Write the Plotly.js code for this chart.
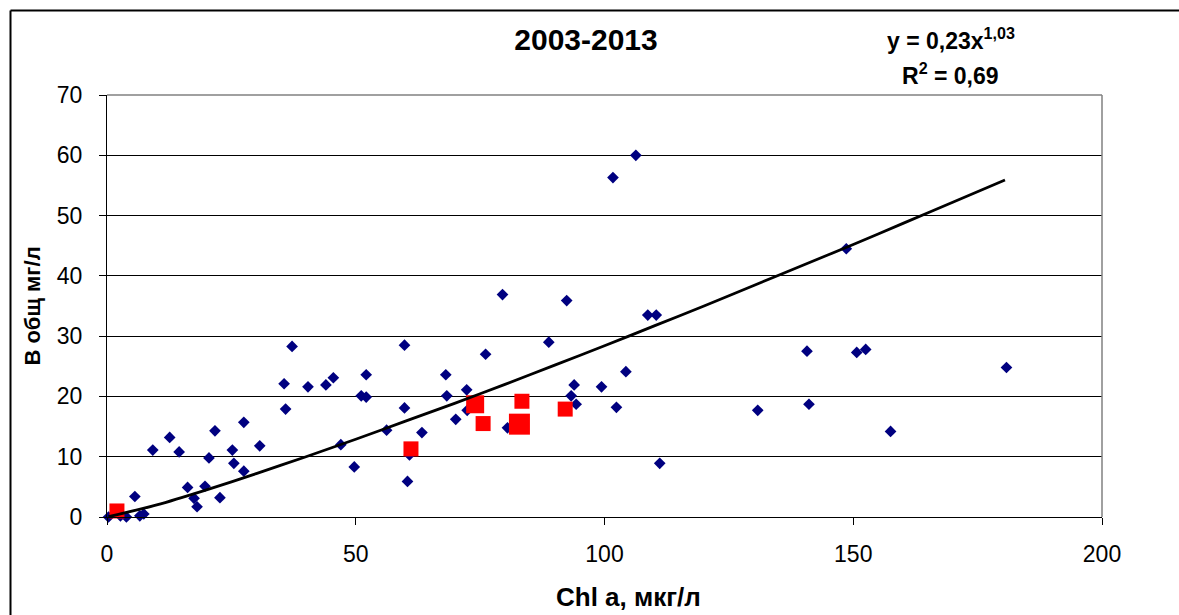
<!DOCTYPE html>
<html>
<head>
<meta charset="utf-8">
<script src="https://cdn.plot.ly/plotly-3.0.1.min.js"></script>
<style>
  html, body { margin: 0; padding: 0; background: #ffffff; }
  #chart { width: 1179px; height: 615px; }
</style>
</head>
<body>
<div id="chart"></div>
<script>
// Chlorophyll a (мкг/л) vs total biomass (мг/л), 2003-2013
const chlAll = [0.3, 2.7, 3.9, 5.6, 6.6, 7.4, 9.2, 12.6, 14.5, 16.2, 17.5, 18.1, 19.7, 20.5,
  21.7, 22.7, 25.2, 25.5, 27.5, 27.5, 30.7, 35.6, 35.9, 37.2, 40.4, 44.0, 45.5, 47.0, 49.7,
  51.1, 52.1, 52.1, 56.2, 59.8, 59.8, 60.4, 60.8, 63.3, 68.1, 68.3, 70.1, 72.3, 72.4, 76.1,
  79.5, 80.5, 88.8, 92.4, 93.3, 93.9, 94.3, 99.4, 101.7, 102.4, 104.3, 106.3, 108.7, 110.4,
  111.1, 130.8, 140.7, 141.1, 148.6, 150.7, 152.5, 157.5, 180.8];
const bAll = [0.0, 0.2, 0.0, 3.4, 0.2, 0.5, 11.1, 13.2, 10.8, 4.9, 3.1, 1.7, 5.1, 9.8,
  14.3, 3.2, 11.1, 8.9, 15.7, 7.6, 11.8, 22.1, 17.9, 28.3, 21.6, 21.9, 23.1, 12.0, 8.3,
  20.1, 19.9, 23.6, 14.4, 28.5, 18.1, 5.9, 10.3, 14.0, 23.6, 20.1, 16.2, 21.1, 17.7, 27.0,
  36.9, 14.8, 29.0, 35.9, 20.1, 21.9, 18.7, 21.6, 56.3, 18.2, 24.1, 60.0, 33.5, 33.5,
  8.9, 17.7, 27.5, 18.7, 44.5, 27.3, 27.8, 14.2, 24.8];

// highlighted samples
const chlSel = [2.0, 61.1, 74.0, 75.6, 83.4, 82.9, 92.1];
const bSel = [1.0, 11.3, 18.7, 15.5, 19.2, 15.4, 17.9];

// power trendline as drawn on the chart
const trendX = [0.3, 10, 20, 30, 40, 50, 60, 70, 80, 90, 100, 110, 120, 130, 140, 150, 160, 170, 180.5];
const trendY = [0.05, 2.0, 4.5, 7.2, 10.0, 12.9, 15.9, 18.9, 22.0, 25.2, 28.4, 31.7, 35.0, 38.4, 41.8, 45.2, 48.7, 52.2, 55.9];

const titleText = '2003-2013';
const eqText = 'y = 0,23x<sup>1,03</sup>';
const r2Text = 'R<sup>2</sup> = 0,69';
const xTitle = 'Chl a, мкг/л';
const yTitle = 'В общ мг/л';

const FONT = 'Liberation Sans, Arial, sans-serif';

// marker sizes of the highlighted squares (pixels)
const selMarkerSize = [15, 15, 18, 15, 15, 21, 15];

const traces = [
  {
    x: chlAll, y: bAll, type: 'scatter', mode: 'markers', name: 'all',
    marker: { symbol: 'diamond', size: 9, color: '#000080', opacity: 1, line: { width: 0 } },
    cliponaxis: false
  },
  {
    x: chlSel, y: bSel, type: 'scatter', mode: 'markers', name: 'selected',
    marker: { symbol: 'square', size: selMarkerSize, color: '#ff0000', opacity: 1, line: { width: 0 } },
    cliponaxis: false
  },
  {
    x: trendX, y: trendY, type: 'scatter', mode: 'lines', name: 'trend',
    line: { color: '#000000', width: 2.8, shape: 'spline', smoothing: 0.8 }
  }
];

// pixel geometry of the plotting area
const L = 107, R = 1102, T = 95, B = 517;
const px = v => (v - L) / (R - L);
const py = v => (B - v) / (B - T);

const layout = {
  width: 1179, height: 615,
  margin: { l: L, r: 1179 - R, t: T, b: 615 - B, pad: 0 },
  paper_bgcolor: '#ffffff', plot_bgcolor: '#ffffff',
  showlegend: false,
  font: { family: FONT, color: '#000000', size: 22 },
  title: {
    text: '<b>' + titleText + '</b>',
    font: { family: FONT, size: 30, color: '#000000' },
    xref: 'container', yref: 'container',
    x: 586 / 1179, y: 1 - 39 / 615, xanchor: 'center', yanchor: 'middle'
  },
  xaxis: {
    range: [0, 200], dtick: 50, tick0: 0,
    showgrid: false, zeroline: false,
    showline: true, linecolor: '#000000', linewidth: 1,
    ticks: 'outside', ticklen: 7, tickcolor: '#000000', tickwidth: 1,
    ticklabelstandoff: 9,
    tickfont: { family: FONT, size: 23, color: '#000000' },
    automargin: false, fixedrange: true
  },
  yaxis: {
    range: [0, 70], dtick: 10, tick0: 0,
    showgrid: true, gridcolor: '#000000', gridwidth: 1,
    zeroline: false,
    showline: true, linecolor: '#000000', linewidth: 1,
    ticks: 'outside', ticklen: 7, tickcolor: '#000000', tickwidth: 1,
    ticklabelstandoff: 12,
    tickfont: { family: FONT, size: 23, color: '#000000' },
    title: { text: '<b>' + yTitle + '</b>', font: { family: FONT, size: 22, color: '#000000' }, standoff: 10 },
    automargin: false, fixedrange: true
  },
  annotations: [
    // x-axis title
    { text: '<b>' + xTitle + '</b>', xref: 'paper', yref: 'paper', x: px(628), y: py(597),
      xanchor: 'center', yanchor: 'middle', showarrow: false,
      font: { family: FONT, size: 26, color: '#000000' } },
    // trendline equation and R²
    { text: '<b>' + eqText + '</b>', xref: 'paper', yref: 'paper', x: px(951), y: py(39),
      xanchor: 'center', yanchor: 'middle', showarrow: false,
      font: { family: FONT, size: 23, color: '#000000' } },
    { text: '<b>' + r2Text + '</b>', xref: 'paper', yref: 'paper', x: px(950), y: py(74),
      xanchor: 'center', yanchor: 'middle', showarrow: false,
      font: { family: FONT, size: 23, color: '#000000' } }
  ],
  shapes: [
    // plot-area border (top and right)
    { type: 'line', xref: 'paper', yref: 'paper', x0: 0, x1: 1, y0: 1, y1: 1,
      line: { color: '#808080', width: 1.5 }, layer: 'above' },
    { type: 'line', xref: 'paper', yref: 'paper', x0: 1, x1: 1, y0: 0, y1: 1,
      line: { color: '#808080', width: 1.5 }, layer: 'above' },
    // chart-area frame
    { type: 'line', xref: 'paper', yref: 'paper', x0: px(10.5), x1: px(1200), y0: py(10.5), y1: py(10.5),
      line: { color: '#000000', width: 2 } },
    { type: 'line', xref: 'paper', yref: 'paper', x0: px(10.5), x1: px(10.5), y0: py(10.5), y1: py(640),
      line: { color: '#000000', width: 2 } }
  ]
};

Plotly.newPlot('chart', traces, layout, { staticPlot: true, displayModeBar: false });
</script>
</body>
</html>
